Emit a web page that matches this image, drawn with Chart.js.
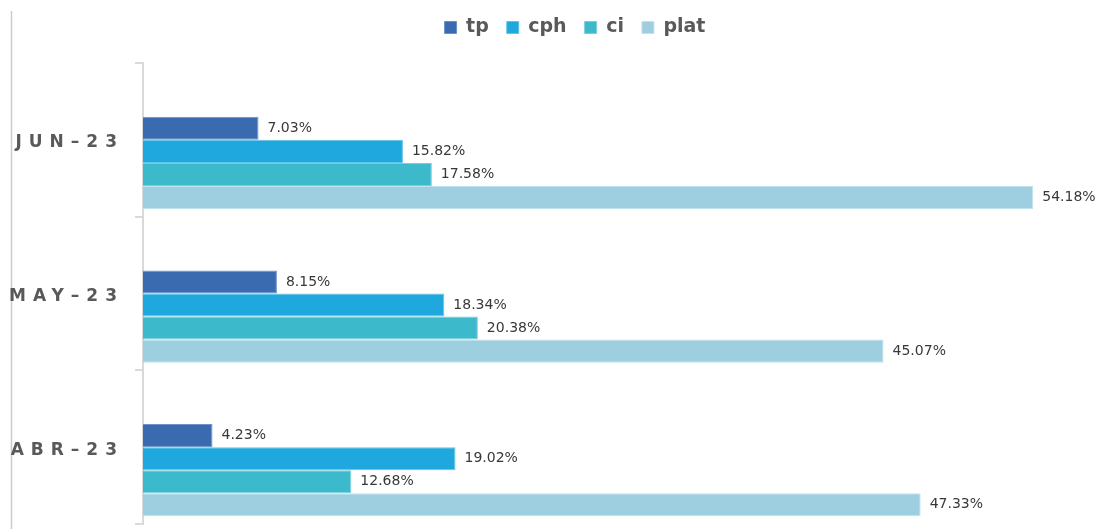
<!DOCTYPE html>
<html>
<head>
<meta charset="utf-8">
<script src="https://cdn.jsdelivr.net/npm/chart.js@4/dist/chart.umd.min.js"></script>
<style>
    body { margin: 0; background: #fff; }
    #wrap { width: 1106px; height: 529px; position: relative; }
</style>
</head>
<body>
<div id="wrap"><canvas id="myChart"></canvas></div>
<script>
var labels = ["JUN–23", "MAY–23", "ABR–23"];

var tp = [7.03, 8.15, 4.23];
var cph = [15.82, 18.34, 19.02];
var ci = [17.58, 20.38, 12.68];
var plat = [54.18, 45.07, 47.33];

var series = [
    { label: "tp", data: tp, color: "#3a6bb0", border: "#6b92c9" },
    { label: "cph", data: cph, color: "#1ea8dd", border: "#62c3e8" },
    { label: "ci", data: ci, color: "#3cb9cb", border: "#78d0dc" },
    { label: "plat", data: plat, color: "#9ecfe0", border: "#c2e2ed" },
];

// two empty slots first so each group sits in the lower part of its band
var datasets = [
    { label: "", data: [], spacer: true },
    { label: "", data: [], spacer: true },
];
for (var i = 0; i < series.length; i++) {
    datasets.push({
        label: series[i].label,
        data: series[i].data,
        backgroundColor: series[i].color,
        borderColor: series[i].border,
        borderWidth: 1,
    });
}

var gridColor = "#d9d9d9";

// extra room under the legend
var legendGap = {
    id: "legendGap",
    beforeInit: function (chart) {
        var fit = chart.legend.fit;
        chart.legend.fit = function () {
            fit.bind(chart.legend)();
            this.height += 16;
        };
    },
    afterLayout: function (chart) {
        // nudge the legend row a bit to the right
        chart.legend.left += 46;
    },
};

// left page rule
var frame = {
    id: "frame",
    beforeDraw: function (chart) {
        var ctx = chart.ctx;
        ctx.save();
        ctx.strokeStyle = "#cccccc";
        ctx.lineWidth = 1.5;
        ctx.beginPath();
        ctx.moveTo(11.5, 11);
        ctx.lineTo(11.5, 529);
        ctx.stroke();
        ctx.restore();
    },
    afterDraw: function (chart) {
        chart.ctx.letterSpacing = "0px";
    },
};

// value labels at the end of every bar; the y tick labels draw after this (ticks.z = 1)
var valueLabels = {
    id: "valueLabels",
    afterDatasetsDraw: function (chart) {
        var ctx = chart.ctx;
        ctx.save();
        ctx.letterSpacing = "0px";
        ctx.font = "14px 'DejaVu Sans'";
        ctx.fillStyle = "#383838";
        ctx.textAlign = "left";
        ctx.textBaseline = "middle";
        chart.data.datasets.forEach(function (ds, di) {
            if (ds.spacer) return;
            var meta = chart.getDatasetMeta(di);
            meta.data.forEach(function (bar, j) {
                ctx.fillText(ds.data[j].toFixed(2) + "%", bar.x + 9, bar.y);
            });
        });
        ctx.restore();
        ctx.letterSpacing = "7px";
    },
};

new Chart(document.getElementById("myChart"), {
    type: "bar",
    data: {
        labels: labels,
        datasets: datasets,
    },
    options: {
        indexAxis: "y",
        responsive: true,
        maintainAspectRatio: false,
        animation: false,
        categoryPercentage: 0.9,
        barPercentage: 1.0,
        layout: {
            padding: { left: 8, right: 10, top: 0, bottom: 5 },
        },
        scales: {
            x: {
                display: false,
                min: 0,
                max: 58,
            },
            y: {
                afterFit: function (scale) {
                    scale.width = 135;
                    scale.paddingTop = 0;
                    scale.paddingBottom = 0;
                },
                border: { color: gridColor, width: 2 },
                grid: {
                    offset: true,
                    drawOnChartArea: false,
                    color: gridColor,
                    lineWidth: 2,
                    tickLength: 8,
                },
                ticks: {
                    z: 1,
                    padding: 11,
                    labelOffset: 3,
                    color: "#595959",
                    font: { family: "'DejaVu Sans'", size: 17, weight: "bold" },
                },
            },
        },
        plugins: {
            tooltip: { enabled: false },
            legend: {
                position: "top",
                labels: {
                    boxWidth: 12,
                    boxHeight: 12,
                    padding: 18,
                    color: "#595959",
                    font: { family: "'DejaVu Sans'", size: 19, weight: "bold" },
                    filter: function (item, data) {
                        return !data.datasets[item.datasetIndex].spacer;
                    },
                },
            },
        },
    },
    plugins: [legendGap, frame, valueLabels],
});
</script>
</body>
</html>
